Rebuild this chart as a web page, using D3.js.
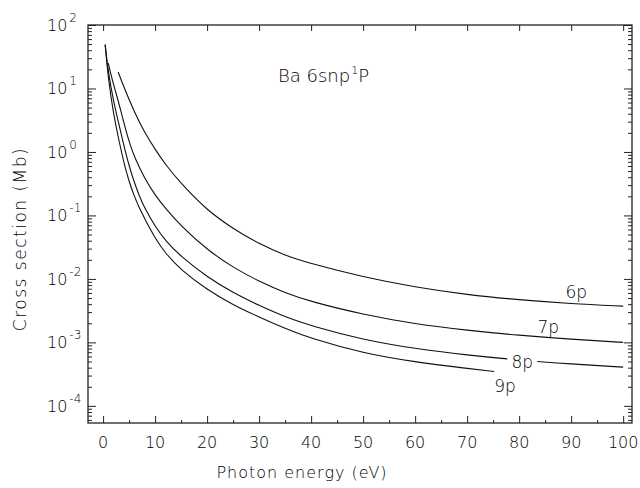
<!DOCTYPE html>
<html>
<head>
<meta charset="utf-8">
<script src="https://cdn.jsdelivr.net/npm/d3@7"></script>
<style>
body{margin:0;background:#fff}
text{font-family:"DejaVu Sans",sans-serif;font-weight:200;fill:#000}
.tick line{stroke:#222;stroke-width:1}
</style>
</head>
<body>
<svg id="canvas"></svg>
<script>
// cross sections (Mb) against photon energy (eV)
let energy6p=[2.9,4,6,8,10,12,15,20,25,30,35,40,50,60,70,80,90,100];
let sigma6p=[18.2,10.5,4.27,2.00,1.10,0.631,0.316,0.120,0.0617,0.0355,0.0234,0.0174,0.0107,0.00741,0.00562,0.00468,0.00407,0.00372];

let energy7p=[1,1.5,2,3,4,5,6,8,10,12,15,20,25,30,35,40,50,60,70,80,90,100];
let sigma7p=[25.1,16.6,11.7,6.03,2.88,1.45,0.832,0.380,0.209,0.129,0.0676,0.0288,0.0151,0.00912,0.00603,0.00437,0.00275,0.00195,0.00155,0.00129,0.00112,0.00100];

let energy8p=[0.4,1,2,3,4,5,6,7,8,10,12,15,20,25,30,35,40,50,60,70,80,90,100];
let sigma8p=[49.0,17.8,6.31,2.82,1.26,0.603,0.331,0.200,0.129,0.0676,0.0398,0.0224,0.0107,0.00603,0.00380,0.00251,0.00182,0.00110,0.000794,0.000631,0.000525,0.000457,0.000407];

let energy9p=[0.4,1,2,3,4,5,6,7,8,10,12,15,20,25,30,35,40,50,60,70,75.2];
let sigma9p=[49.0,14.1,3.98,1.58,0.676,0.339,0.200,0.129,0.0891,0.0437,0.0251,0.0138,0.00676,0.00389,0.00251,0.00166,0.00115,0.000676,0.000490,0.000389,0.000347];

let seriesNames=['6p','7p','8p','9p'];
// where each curve label sits (eV, Mb)
let labelEnergy=[91,85.6,80.6,77.3];
let labelSigma=[0.005,0.0014,0.0004,0.000166];

let xTicks=[0,10,20,30,40,50,60,70,80,90,100];
let xMinorTicks=[5,15,25,35,45,55,65,75,85,95];
let yExponents=[2,1,0,-1,-2,-3,-4];

let width=640,height=488;
let padLeft=88,padRight=632,padTop=25,padBottom=423;

let canvas=d3.select("#canvas")
canvas.attr('width',width)
canvas.attr('height',height)

let xscale=d3.scaleLinear().domain([-2.9,101.7]).range([padLeft,padRight]);
let yscale=d3.scaleLog().domain([Math.pow(10,-4.27),100]).range([padBottom,padTop]);

let yMajor=yExponents.map(e=>Math.pow(10,e));
let yMinor=[];
for(let e=-5;e<2;e++){
    for(let k=2;k<10;k++){
        let v=k*Math.pow(10,e);
        if(v>=yscale.domain()[0]&&v<=100) yMinor.push(v);
    }
}

function tickAxis(axis,pos,values,size){
    let g=canvas.append('g')
        .attr('transform',pos)
        .call(axis.tickValues(values).tickSizeInner(size).tickSizeOuter(0).tickFormat(''));
    g.select('.domain').remove();
    return g;
}

function drawAxis(){
    tickAxis(d3.axisBottom(xscale),'translate(0,'+padBottom+')',xTicks,-7);
    tickAxis(d3.axisBottom(xscale),'translate(0,'+padBottom+')',xMinorTicks,-3);
    tickAxis(d3.axisTop(xscale),'translate(0,'+padTop+')',xTicks,-6);
    tickAxis(d3.axisLeft(yscale),'translate('+padLeft+',0)',yMajor,-8);
    tickAxis(d3.axisLeft(yscale),'translate('+padLeft+',0)',yMinor,-4);
    tickAxis(d3.axisRight(yscale),'translate('+padRight+',0)',yMajor,-8);
    tickAxis(d3.axisRight(yscale),'translate('+padRight+',0)',yMinor,-4);

    canvas.append('rect')
        .attr('x',padLeft).attr('y',padTop)
        .attr('width',padRight-padLeft).attr('height',padBottom-padTop)
        .attr('fill','none').attr('stroke','#222').attr('stroke-width',1.3);

    canvas.selectAll('.xlab')
        .data(xTicks)
        .enter()
        .append('text')
        .attr('class','xlab')
        .attr('x',d=>xscale(d))
        .attr('y',padBottom+25)
        .attr('text-anchor','middle')
        .attr('font-size',16)
        .text(d=>d);

    let ylab=canvas.selectAll('.ylab')
        .data(yExponents)
        .enter()
        .append('text')
        .attr('class','ylab')
        .attr('x',47)
        .attr('y',d=>yscale(Math.pow(10,d))+6)
        .attr('font-size',16);
    ylab.append('tspan').text('10');
    ylab.append('tspan').attr('dy',-9).attr('dx',2).attr('font-size',12).text(d=>d<0?'-'+(-d):d);

    canvas.append('text')
        .attr('transform','translate(26,239) rotate(-90)')
        .attr('text-anchor','middle')
        .attr('font-size',17)
        .attr('letter-spacing',1.5)
        .text('Cross section (Mb)');

    canvas.append('text')
        .attr('x',302)
        .attr('y',478)
        .attr('text-anchor','middle')
        .attr('font-size',16)
        .attr('letter-spacing',1)
        .text('Photon  energy (eV)');

    let title=canvas.append('text')
        .attr('x',278)
        .attr('y',82)
        .attr('font-size',18);
    title.append('tspan').text('Ba 6snp');
    title.append('tspan').attr('dy',-8).attr('dx',1).attr('font-size',11).text('1');
    title.append('tspan').attr('dy',8).text('P');
}

function drawCurves(){
    let series=[
        d3.zip(energy6p,sigma6p),
        d3.zip(energy7p,sigma7p),
        d3.zip(energy8p,sigma8p),
        d3.zip(energy9p,sigma9p)
    ];
    let line=d3.line()
        .x(d=>xscale(d[0]))
        .y(d=>yscale(d[1]))
        .curve(d3.curveBasis);
    canvas.selectAll('.curve')
        .data(series)
        .enter()
        .append('path')
        .attr('class','curve')
        .attr('d',line)
        .attr('fill','none')
        .attr('stroke','#111')
        .attr('stroke-width',1.1);

    let labels=canvas.selectAll('.clab')
        .data(seriesNames)
        .enter()
        .append('g')
        .attr('class','clab')
        .attr('transform',(d,i)=>'translate('+xscale(labelEnergy[i])+','+yscale(labelSigma[i])+')');
    // the 8p label breaks its line
    labels.filter(d=>d==='8p')
        .append('rect')
        .attr('x',-15).attr('y',-14)
        .attr('width',30).attr('height',18)
        .attr('fill','#fff');
    labels.append('text')
        .attr('text-anchor','middle')
        .attr('font-size',17)
        .text(d=>d);
}

drawCurves();
drawAxis();
</script>
</body>
</html>
